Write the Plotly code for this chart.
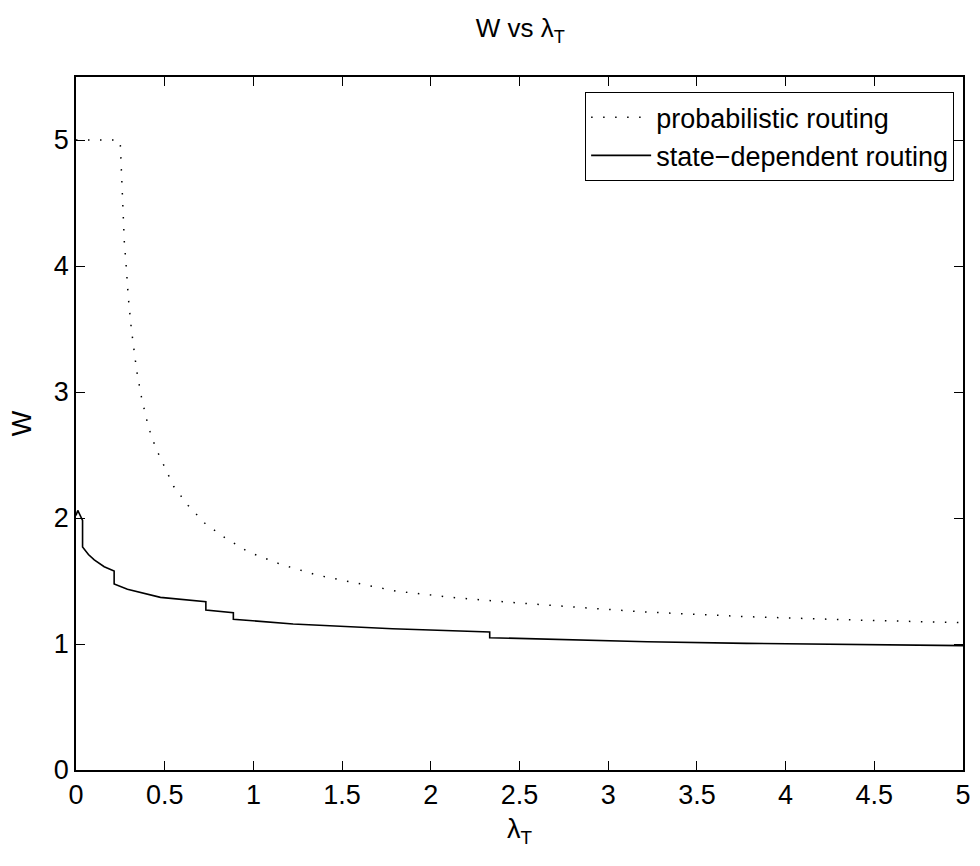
import plotly.graph_objects as go

# probabilistic routing (dotted)
prob_x = [0, 0.24, 0.25, 0.262, 0.273, 0.28, 0.295, 0.312, 0.342, 0.37, 0.407, 0.43, 0.458,
          0.551, 0.632, 0.725, 0.832, 0.972, 1.149, 1.355, 1.551, 1.803, 2.12, 2.5, 3.18,
          3.78, 4.4, 5.0]
prob_y = [5.0, 5.0, 4.96, 4.51, 4.17, 4.06, 3.75, 3.5, 3.17, 2.95, 2.73, 2.63, 2.53,
          2.25, 2.10, 1.96, 1.85, 1.73, 1.635, 1.548, 1.49, 1.42, 1.37, 1.325, 1.256,
          1.217, 1.19, 1.169]

# state-dependent routing (solid)
state_x = [0, 0.01, 0.037, 0.037, 0.07, 0.103, 0.159, 0.215, 0.215, 0.29, 0.476, 0.732,
           0.732, 0.887, 0.887, 1.224, 1.784, 2.158, 2.332, 2.332, 3.22, 3.78, 4.4, 5.0]
state_y = [2.02, 2.06, 1.98, 1.77, 1.71, 1.667, 1.613, 1.58, 1.476, 1.434, 1.37, 1.336,
           1.27, 1.248, 1.196, 1.159, 1.121, 1.106, 1.095, 1.05, 1.018, 1.005, 0.995, 0.987]

x_ticks = [0, 0.5, 1, 1.5, 2, 2.5, 3, 3.5, 4, 4.5, 5]
x_ticktext = ["0", "0.5", "1", "1.5", "2", "2.5", "3", "3.5", "4", "4.5", "5"]
y_ticks = [0, 1, 2, 3, 4, 5]

FONT = "Liberation Sans, Arial, sans-serif"
FS = 27

fig = go.Figure()
fig.add_trace(go.Scatter(x=prob_x, y=prob_y, mode="lines", name="probabilistic routing",
                         line=dict(color="black", width=1.5, dash="1.5px,10.5px")))
fig.add_trace(go.Scatter(x=state_x, y=state_y, mode="lines", name="state\u2212dependent routing",
                         line=dict(color="black", width=1.6)))

axis_common = dict(showline=True, linecolor="black", linewidth=1.5, mirror="ticks",
                   ticks="inside", ticklen=9, tickwidth=1, tickcolor="black",
                   showgrid=False, zeroline=False,
                   tickfont=dict(family=FONT, size=FS, color="black"))

fig.update_xaxes(range=[0, 5], tickvals=x_ticks, ticktext=x_ticktext,
                 title=dict(text="\u03bb<sub>T</sub>", font=dict(family=FONT, size=FS, color="black"),
                            standoff=10),
                 **axis_common)
fig.update_yaxes(range=[0, 5.5], tickvals=y_ticks,
                 title=dict(text="W", font=dict(family=FONT, size=FS, color="black"), standoff=14),
                 **axis_common)

fig.update_layout(
    width=980, height=866,
    margin=dict(l=76, r=9, t=77, b=96),
    paper_bgcolor="white", plot_bgcolor="white",
    title=dict(text="W vs \u03bb<sub>T</sub>", x=0.531, xanchor="center", y=0.978, yanchor="top",
               font=dict(family=FONT, size=26, color="black")),
    legend=dict(x=0.99, y=0.978, xanchor="right", yanchor="top",
                bordercolor="black", borderwidth=1, bgcolor="white",
                font=dict(family=FONT, size=FS, color="black"),
                tracegroupgap=0, itemwidth=60),
    showlegend=True,
)

fig.write_html("out.html")
